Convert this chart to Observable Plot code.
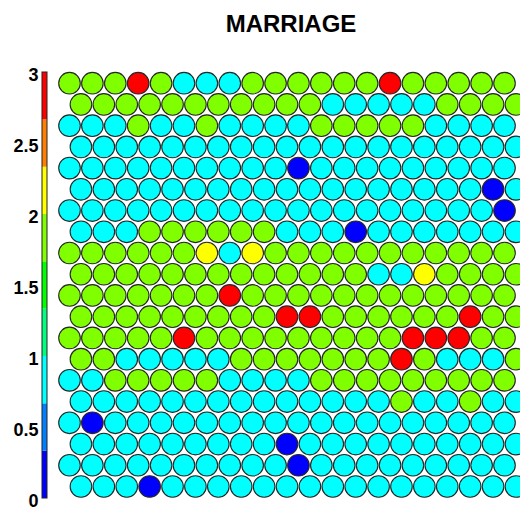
<!DOCTYPE html>
<html>
<head>
<meta charset="utf-8">
<script src="https://cdn.jsdelivr.net/npm/d3@7"></script>
<script src="https://cdn.jsdelivr.net/npm/@observablehq/plot@0.6"></script>
<style>
  html, body { margin: 0; padding: 0; background: #fff; }
  #chart { position: relative; width: 520px; height: 510px; overflow: hidden;
           font-family: "Liberation Sans", Arial, sans-serif; }
  #title { position: absolute; left: 62px; width: 458px; top: 12px; text-align: center;
           font-size: 24px; line-height: 24px; font-weight: bold; color: #000; }
  #bar, #grid { position: absolute; top: 0; }
  #bar { left: 0; }
  #grid { left: 0; }
</style>
</head>
<body>
<div id="chart">
  <div id="grid"></div>
  <div id="bar"></div>
  <div id="title"></div>
</div>
<script>
// ---- data ----
const chartTitle = "MARRIAGE";

// SOM hex grid (20 x 20), one string per row, top row first.
// B = dark blue, C = cyan, G = lime, Y = yellow, R = red
const gridRows = [
  "GGGRGCCCGGGGGGRGGGGG",
  "GGGGGGGGGGGCCCCCGGGG",
  "CCCGCCGCCCCGGGGGCCCC",
  "CCCCCCCCCCCCCCCCCCCC",
  "CCCCCCCCCCBCCCCCCCCC",
  "CCCCCCCCCCCCCCCCCCBC",
  "CCCCCCCCCCCCCCCCCCCB",
  "CCCGGGGGGCCCBCCCCCCC",
  "GGGGGGYCYGGGGGGGGGGG",
  "GGGGGGGGGGGGGCCYGGGG",
  "GGGGGGGRGGGGGGGGGGGG",
  "GGGGGGGGGRRGGGGGGRGG",
  "GGGGGRGGGGGGGGGRRRGG",
  "GGCCCCCGGGGGGGRGCCCG",
  "CCGGGGGCCCCGGGGGGGGG",
  "CCCCCCCCCCCCCCGCCGCC",
  "CBCCCCCCCCCCCCCCCCCC",
  "CCCCCCCCCBCCCCCCCCCC",
  "CCCCCCCCCCBCCCCCCCCC",
  "CCCBCCCCCCCCCCCCCCCC"
];
// estimated node values for each colour code
const codeValue = { B: 0.15, C: 0.85, G: 1.85, Y: 2.15, R: 2.85 };

// colour bar: 9 bands over [0, 3]
const barBreaks = [0, 1/3, 2/3, 1, 4/3, 5/3, 2, 7/3, 8/3, 3];
const barColors = ["#0000FF", "#0080FF", "#00FFFF", "#00FF80", "#00FF00",
                   "#80FF00", "#FFFF00", "#FF8000", "#FF0000"];
const barTicks = [0, 0.5, 1, 1.5, 2, 2.5, 3];

// ---- build ----
const cells = [];
gridRows.forEach((row, r) => {
  [...row].forEach((code, c) => {
    cells.push({ row: r, col: c + (r % 2) * 0.5, value: codeValue[code] });
  });
});

const colorScale = { type: "threshold", domain: barBreaks.slice(1, -1), range: barColors };

const grid = Plot.plot({
  width: 520, height: 510, margin: 0,
  x: { domain: [0, 19], range: [69, 504], axis: null },
  y: { domain: [0, 19], range: [82.7, 486], axis: null },
  color: colorScale,
  marks: [
    Plot.dot(cells, { x: "col", y: "row", r: 10.8, fill: "value", stroke: "#262626", strokeWidth: 1.1 })
  ]
});
document.getElementById("grid").appendChild(grid);

const segments = barColors.map((c, i) => ({
  lo: barBreaks[i], hi: barBreaks[i + 1], mid: (barBreaks[i] + barBreaks[i + 1]) / 2
}));

const bar = Plot.plot({
  width: 56, height: 510,
  marginLeft: 42, marginRight: 9, marginTop: 72, marginBottom: 12,
  style: { fontFamily: "'Liberation Sans', Arial, sans-serif", fontSize: "18px", color: "#000", background: "transparent", overflow: "visible" },
  x: { domain: [0, 1], axis: null },
  y: { domain: [0, 3], axis: null },
  color: colorScale,
  marks: [
    Plot.rect(segments, { x1: () => 0, x2: () => 1, y1: "lo", y2: "hi", fill: "mid" }),
    Plot.rect([barBreaks], { x1: () => 0, x2: () => 1, y1: d => d[0], y2: d => d[d.length - 1], fill: "none", stroke: "#222", strokeWidth: 1 }),
    Plot.axisY({ ticks: barTicks, tickFormat: d => `${d}`, tickSize: 0, tickPadding: 4,
                 fontSize: 18, fontWeight: "bold", dy: 3, label: null })
  ]
});
document.getElementById("bar").appendChild(bar);

document.getElementById("title").textContent = chartTitle;
</script>
</body>
</html>
